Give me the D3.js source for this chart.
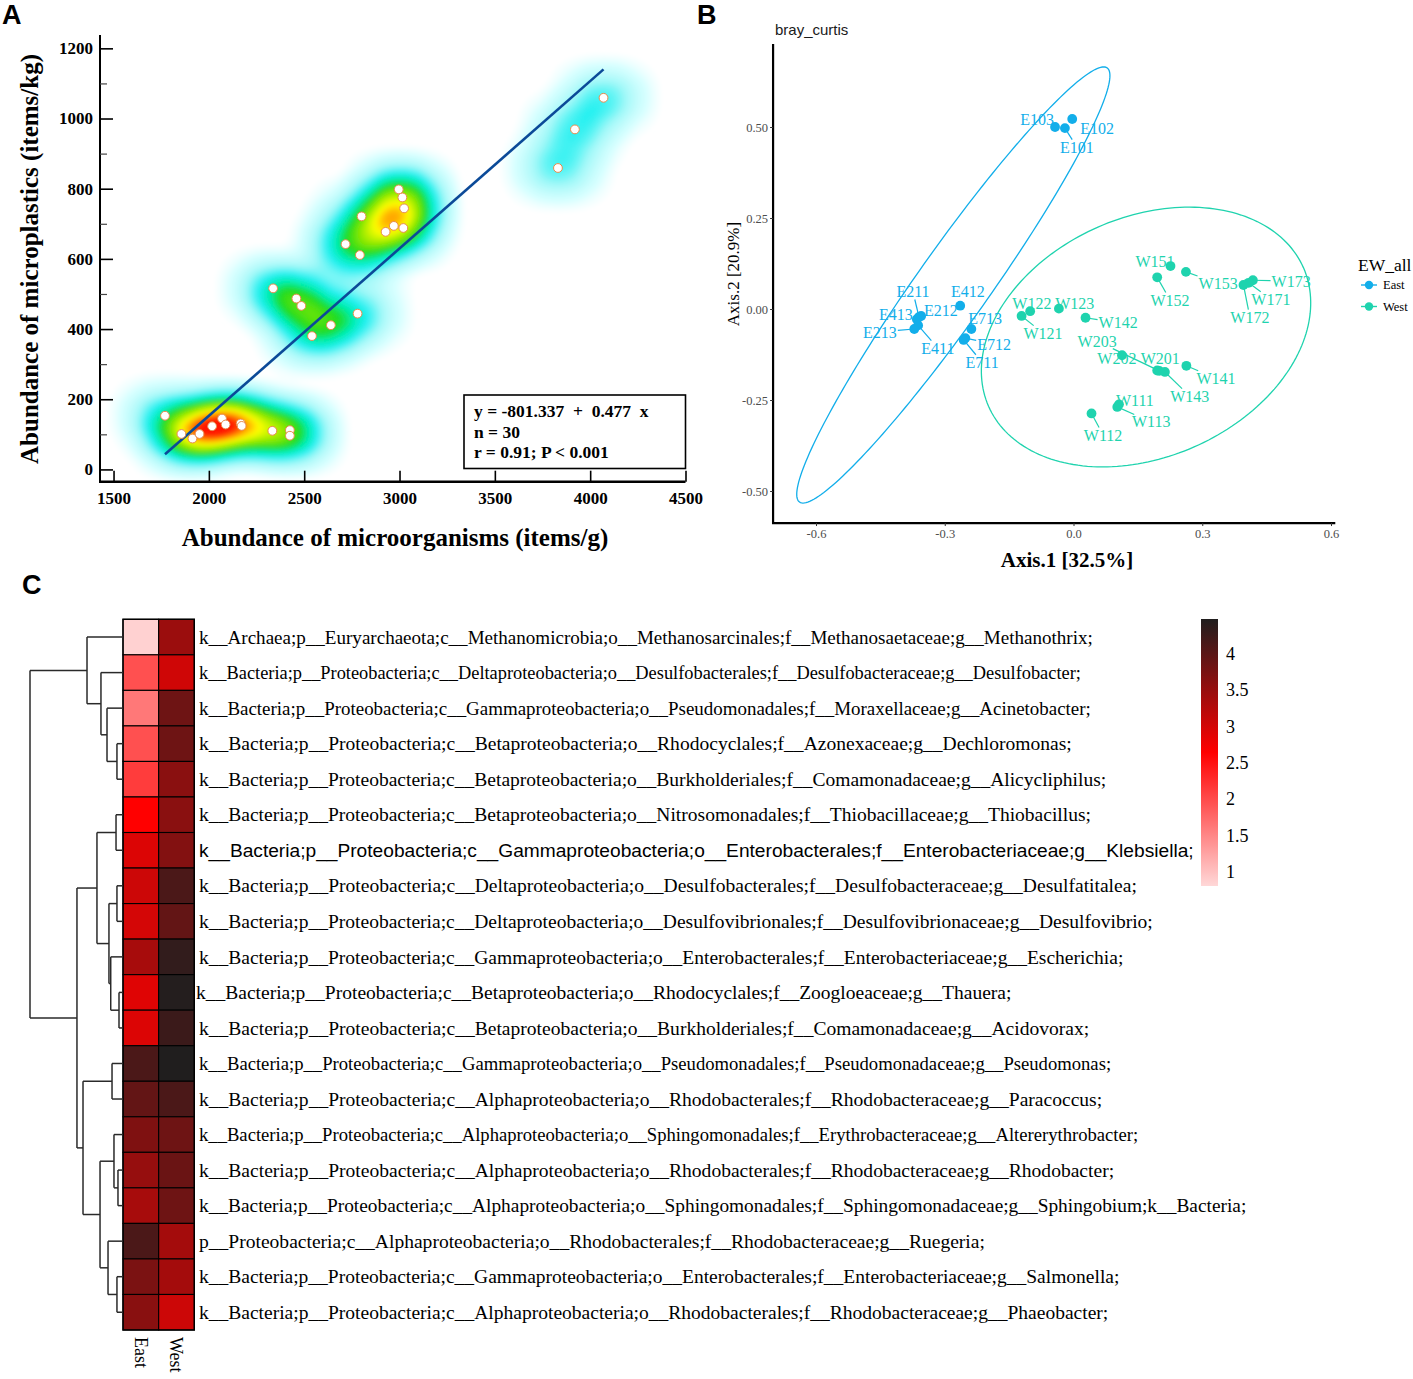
<!DOCTYPE html>
<html><head><meta charset="utf-8">
<script src="https://cdn.jsdelivr.net/npm/d3@7"></script>
<style>
body{margin:0;background:#fff}
svg{display:block}
</style>
</head><body>
<svg id="c" width="1413" height="1379"></svg>
<script>
// ================= DATA =================
// Panel A: abundance of microorganisms (items/g) vs microplastics (items/kg)
const microorganisms = [1770,1856,1914,1951,2017,2069,2088,2167,2172,2333,2425,2425,
  2337,2459,2485,2541,2640,2780,
  2717,2792,2801,2927,2970,3020,3024,3015,2996,
  3831,3920,4070];
const microplastics = [153,101,88,101,123,145,128,131,124,110,112,96,
  516,487,466,380,411,444,
  642,611,721,677,694,688,744,775,798,
  859,969,1059];
const regIntercept = -801.337;
const regSlope = 0.477;
const statLines = ["y = -801.337  +  0.477  x", "n = 30", "r = 0.91; P < 0.001"];
const xTicksA = [1500,2000,2500,3000,3500,4000,4500];
const yTicksA = [0,200,400,600,800,1000,1200];
const yMinorA = [100,300,500,700,900,1100];

// Panel B: PCoA (bray_curtis)
const sampleNames = ["E102","E103","E101","E412","E212","E211","E413","E411","E213","E713","E712","E711",
  "W121","W122","W123","W142","W151","W152","W153","W173","W171","W172",
  "W202","W201","W203","W143","W141","W111","W113","W112"];
const axis1 = [-0.003,-0.043,-0.020,-0.264,-0.355,-0.360,-0.365,-0.362,-0.371,-0.238,-0.252,-0.256,
  -0.121,-0.101,-0.034,0.028,0.226,0.195,0.262,0.418,0.408,0.396,
  0.113,0.195,0.200,0.213,0.263,0.106,0.102,0.042];
const axis2 = [0.522,0.500,0.497,0.009,-0.019,-0.022,-0.028,-0.045,-0.055,-0.055,-0.080,-0.085,
  -0.019,-0.006,0.001,-0.024,0.118,0.087,0.102,0.079,0.072,0.066,
  -0.127,-0.169,-0.170,-0.173,-0.156,-0.262,-0.269,-0.287];
const groups = ["East","East","East","East","East","East","East","East","East","East","East","East",
  "West","West","West","West","West","West","West","West","West","West",
  "West","West","West","West","West","West","West","West"];
// repelled label anchor positions (data units)
const labelAxis1 = [0.055,-0.085,0.008,-0.246,-0.309,-0.374,-0.414,-0.316,-0.451,-0.206,-0.185,-0.213,
  -0.071,-0.097,0.003,0.104,0.190,0.225,0.337,0.507,0.460,0.411,
  0.101,0.202,0.055,0.271,0.332,0.143,0.181,0.069];
const labelAxis2 = [0.495,0.522,0.445,0.047,-0.003,0.047,-0.014,-0.107,-0.063,-0.027,-0.096,-0.146,
  -0.066,0.016,0.016,-0.038,0.132,0.025,0.071,0.077,0.027,-0.022,
  -0.137,-0.137,-0.088,-0.239,-0.190,-0.250,-0.310,-0.346];
const groupNames = ["East","West"];
// confidence ellipses: centre and two semi-axis vectors (data units)
const ellipseCenter = [[-0.280,0.066],[0.169,-0.077]];
const ellipseAxisA = [[0.3584,0.5964],[0.367,0.190]];
const ellipseAxisB = [[0.0685,-0.0571],[0.112,-0.302]];
const xTicksB = [-0.6,-0.3,0.0,0.3,0.6];
const yTicksB = [-0.50,-0.25,0.00,0.25,0.50];

// Panel C: heatmap
const taxa = [
"k__Archaea;p__Euryarchaeota;c__Methanomicrobia;o__Methanosarcinales;f__Methanosaetaceae;g__Methanothrix;",
"k__Bacteria;p__Proteobacteria;c__Deltaproteobacteria;o__Desulfobacterales;f__Desulfobacteraceae;g__Desulfobacter;",
"k__Bacteria;p__Proteobacteria;c__Gammaproteobacteria;o__Pseudomonadales;f__Moraxellaceae;g__Acinetobacter;",
"k__Bacteria;p__Proteobacteria;c__Betaproteobacteria;o__Rhodocyclales;f__Azonexaceae;g__Dechloromonas;",
"k__Bacteria;p__Proteobacteria;c__Betaproteobacteria;o__Burkholderiales;f__Comamonadaceae;g__Alicycliphilus;",
"k__Bacteria;p__Proteobacteria;c__Betaproteobacteria;o__Nitrosomonadales;f__Thiobacillaceae;g__Thiobacillus;",
"k__Bacteria;p__Proteobacteria;c__Gammaproteobacteria;o__Enterobacterales;f__Enterobacteriaceae;g__Klebsiella;",
"k__Bacteria;p__Proteobacteria;c__Deltaproteobacteria;o__Desulfobacterales;f__Desulfobacteraceae;g__Desulfatitalea;",
"k__Bacteria;p__Proteobacteria;c__Deltaproteobacteria;o__Desulfovibrionales;f__Desulfovibrionaceae;g__Desulfovibrio;",
"k__Bacteria;p__Proteobacteria;c__Gammaproteobacteria;o__Enterobacterales;f__Enterobacteriaceae;g__Escherichia;",
"k__Bacteria;p__Proteobacteria;c__Betaproteobacteria;o__Rhodocyclales;f__Zoogloeaceae;g__Thauera;",
"k__Bacteria;p__Proteobacteria;c__Betaproteobacteria;o__Burkholderiales;f__Comamonadaceae;g__Acidovorax;",
"k__Bacteria;p__Proteobacteria;c__Gammaproteobacteria;o__Pseudomonadales;f__Pseudomonadaceae;g__Pseudomonas;",
"k__Bacteria;p__Proteobacteria;c__Alphaproteobacteria;o__Rhodobacterales;f__Rhodobacteraceae;g__Paracoccus;",
"k__Bacteria;p__Proteobacteria;c__Alphaproteobacteria;o__Sphingomonadales;f__Erythrobacteraceae;g__Altererythrobacter;",
"k__Bacteria;p__Proteobacteria;c__Alphaproteobacteria;o__Rhodobacterales;f__Rhodobacteraceae;g__Rhodobacter;",
"k__Bacteria;p__Proteobacteria;c__Alphaproteobacteria;o__Sphingomonadales;f__Sphingomonadaceae;g__Sphingobium;k__Bacteria;",
"p__Proteobacteria;c__Alphaproteobacteria;o__Rhodobacterales;f__Rhodobacteraceae;g__Ruegeria;",
"k__Bacteria;p__Proteobacteria;c__Gammaproteobacteria;o__Enterobacterales;f__Enterobacteriaceae;g__Salmonella;",
"k__Bacteria;p__Proteobacteria;c__Alphaproteobacteria;o__Rhodobacterales;f__Rhodobacteraceae;g__Phaeobacter;"
];
const heatColumns = ["East","West"];
const eastValues = [0.87,1.96,1.62,1.96,2.13,2.64,2.93,3.06,2.99,3.36,2.90,2.93,4.12,3.92,3.69,3.50,3.36,4.12,3.72,3.61];
const westValues = [3.46,3.03,3.83,3.83,3.60,3.60,3.66,4.12,3.92,4.32,4.44,4.25,4.47,4.12,3.83,3.86,3.83,3.39,3.39,3.06];
const colorTicks = [1,1.5,2,2.5,3,3.5,4];
const colorDomain = [0.81,2.64,4.47];
// row dendrogram: merge heights (relative) and leaves (row indices)
const dendrogram = {h:1.0, c:[
  {h:0.387, c:[0, {h:0.237, c:[1, {h:0.172, c:[2, {h:0.065, c:[3,4]}]}]}]},
  {h:0.495, c:[
    {h:0.280, c:[{h:0.075, c:[5,6]}, {h:0.151, c:[{h:0.065, c:[7,8]}, {h:0.132, c:[9, {h:0.043, c:[10,11]}]}]}]},
    {h:0.430, c:[{h:0.118, c:[12,13]}, {h:0.247, c:[{h:0.097, c:[14, {h:0.054, c:[15,16]}]}, {h:0.161, c:[17, {h:0.065, c:[18,19]}]}]}]}
  ]}
]};

// ---- layout constants (not data) ----
const rowLabelLeft  = [199,199,199,199,199,199,199,199,199,199,196,199,199,199,199,199,199,199,199,199];
const rowLabelRight = [1093,1081,1091,1072,1107,1092,1194,1137,1153,1124,1012,1089,1112,1102,1139,1114,1247,985,1120,1109];

// ================= DRAW =================
const svg = d3.select("#c");
const defs = svg.append("defs");
const SERIF = '"Liberation Serif","Times New Roman",serif';
const SANS = '"Liberation Sans",Arial,sans-serif';

// panel letters
[["A",2,24],["B",697,24],["C",22,594]].forEach(([t,x,y])=>{
  svg.append("text").attr("x",x).attr("y",y).attr("font-family",SANS).attr("font-weight","bold")
    .attr("font-size",27).text(t);
});

// ---------- Panel A ----------
const xA = d3.scaleLinear().domain([1429, 4500]).range([100, 685.5]);
const yA = d3.scaleLinear().domain([-35, 1238]).range([481.7, 35]);
const gA = svg.append("g");

// 2-D kernel density (slightly wider kernel horizontally)
const aniso = 1.3;
const ptsA = microorganisms.map((x,i)=>[xA(x)/aniso, yA(microplastics[i])]);
const contours = d3.contourDensity().x(d=>d[0]).y(d=>d[1])
  .size([600,520]).cellSize(2).bandwidth(17).thresholds(100)(ptsA);
const maxV = d3.max(contours, c=>c.value);
const jet = d3.scaleLinear()
  .domain([0, 0.03, 0.12, 0.22, 0.32, 0.42, 0.56, 0.71, 0.83, 0.93])
  .range(["#ffffff","#d8ffff","#a0f8f8","#20f0f0","#00eeb0","#20dc20","#90e800","#ffff00","#ff9000","#ff1800"])
  .clamp(true);
const stretch = d3.geoTransform({point(x,y){ this.stream.point(x*aniso, y); }});
const blur = defs.append("filter").attr("id","blurA").attr("x","-10%").attr("y","-10%").attr("width","120%").attr("height","120%");
blur.append("feGaussianBlur").attr("stdDeviation",2.5);
gA.append("g").attr("filter","url(#blurA)")
  .selectAll("path").data(contours).join("path")
  .attr("d", d3.geoPath(stretch)).attr("fill", d=>jet(d.value/maxV)).attr("stroke","none");

// regression line
const xr = d3.extent(microorganisms);
gA.append("line")
  .attr("x1", xA(xr[0])).attr("y1", yA(regIntercept + regSlope*xr[0]))
  .attr("x2", xA(xr[1])).attr("y2", yA(regIntercept + regSlope*xr[1]))
  .attr("stroke","#0b4a98").attr("stroke-width",2.6);

// points
gA.selectAll("circle.pt").data(microorganisms).join("circle")
  .attr("cx",(d)=>xA(d)).attr("cy",(d,i)=>yA(microplastics[i])).attr("r",4.4)
  .attr("fill","#fff").attr("stroke","#e88b4c").attr("stroke-width",1);

// axes A
gA.append("line").attr("x1",100).attr("x2",100).attr("y1",yA.range()[1]).attr("y2",yA.range()[0])
  .attr("stroke","#000").attr("stroke-width",2);
gA.append("line").attr("x1",99).attr("x2",xA.range()[1]).attr("y1",yA.range()[0]).attr("y2",yA.range()[0])
  .attr("stroke","#000").attr("stroke-width",2.4);
gA.append("g").attr("transform","translate(100,0)")
  .call(d3.axisRight(yA).tickValues(yTicksA).tickSize(13).tickFormat(""))
  .call(g=>g.select(".domain").remove())
  .call(g=>g.selectAll("line").attr("stroke-width",1.6));
gA.append("g").attr("transform","translate(100,0)")
  .call(d3.axisRight(yA).tickValues(yMinorA).tickSize(7).tickFormat(""))
  .call(g=>g.select(".domain").remove())
  .call(g=>g.selectAll("line").attr("stroke-width",1.2).attr("stroke","#444"));
gA.append("g").attr("transform","translate(100,0)")
  .call(d3.axisLeft(yA).tickValues(yTicksA).tickSize(0).tickPadding(7).tickFormat(d3.format("d")))
  .call(g=>g.select(".domain").remove())
  .call(g=>g.selectAll("text").attr("font-family",SERIF).attr("font-weight","bold").attr("font-size",17).attr("fill","#000"));
gA.append("g").attr("transform",`translate(0,${yA.range()[0]})`)
  .call(d3.axisTop(xA).tickValues(xTicksA).tickSize(11).tickFormat(""))
  .call(g=>g.select(".domain").remove())
  .call(g=>g.selectAll("line").attr("stroke-width",1.6));
gA.append("g").attr("transform",`translate(0,${yA.range()[0]})`)
  .call(d3.axisBottom(xA).tickValues(xTicksA).tickSize(0).tickPadding(10).tickFormat(d3.format("d")))
  .call(g=>g.select(".domain").remove())
  .call(g=>g.selectAll("text").attr("font-family",SERIF).attr("font-weight","bold").attr("font-size",17).attr("fill","#000"));

gA.append("text").attr("transform","translate(38,259) rotate(-90)").attr("text-anchor","middle")
  .attr("font-family",SERIF).attr("font-weight","bold").attr("font-size",25)
  .text("Abundance of microplastics (items/kg)");
gA.append("text").attr("x",395).attr("y",546).attr("text-anchor","middle")
  .attr("font-family",SERIF).attr("font-weight","bold").attr("font-size",25)
  .text("Abundance of microorganisms (items/g)");

// stats box
gA.append("rect").attr("x",464).attr("y",395).attr("width",221.5).attr("height",73.5)
  .attr("fill","#fff").attr("stroke","#000").attr("stroke-width",1.6);
gA.selectAll("text.stat").data(statLines).join("text")
  .attr("x",474).attr("y",(d,i)=>417+i*20.7)
  .attr("font-family",SERIF).attr("font-weight","bold").attr("font-size",17.5)
  .style("white-space","pre").text(d=>d);

// ---------- Panel B ----------
const xB = d3.scaleLinear().domain([-0.6,0.6]).range([816,1331]);
const yB = d3.scaleLinear().domain([-0.5,0.5]).range([491,127]);
const gB = svg.append("g");
const grpColor = d3.scaleOrdinal().domain(groupNames).range(["#12aeea","#1fd3ae"]);

gB.append("text").attr("x",775).attr("y",35).attr("font-family",SANS).attr("font-size",15).attr("fill","#1a1a1a").text("bray_curtis");

// ellipses
const ellLine = d3.line().curve(d3.curveLinearClosed);
groupNames.forEach((g,k)=>{
  const c = ellipseCenter[k], a = ellipseAxisA[k], b = ellipseAxisB[k];
  const pts = d3.range(0, 200).map(i=>{
    const t = i/200*2*Math.PI;
    return [xB(c[0] + a[0]*Math.cos(t) + b[0]*Math.sin(t)), yB(c[1] + a[1]*Math.cos(t) + b[1]*Math.sin(t))];
  });
  gB.append("path").attr("d", ellLine(pts)).attr("fill","none").attr("stroke",grpColor(g)).attr("stroke-width",1.3);
});

// axes B
const yBot = yB(-0.588), yTop = yB(0.728);
gB.append("line").attr("x1",xB(-0.70)).attr("x2",xB(-0.70)).attr("y1",yTop).attr("y2",yBot+1).attr("stroke","#000").attr("stroke-width",2.2);
gB.append("line").attr("x1",xB(-0.70)-1).attr("x2",xB(0.61)).attr("y1",yBot).attr("y2",yBot).attr("stroke","#000").attr("stroke-width",2.2);
gB.append("g").attr("transform",`translate(${xB(-0.70)},0)`)
  .call(d3.axisLeft(yB).tickValues(yTicksB).tickSize(3).tickPadding(2).tickFormat(d=>d.toFixed(2)))
  .call(g=>g.select(".domain").remove())
  .call(g=>g.selectAll("line").attr("stroke","#333"))
  .call(g=>g.selectAll("text").attr("font-family",SERIF).attr("font-size",12.5).attr("fill","#4d4d4d"));
gB.append("g").attr("transform",`translate(0,${yBot})`)
  .call(d3.axisBottom(xB).tickValues(xTicksB).tickSize(3).tickPadding(3).tickFormat(d=>d.toFixed(1)))
  .call(g=>g.select(".domain").remove())
  .call(g=>g.selectAll("line").attr("stroke","#333"))
  .call(g=>g.selectAll("text").attr("font-family",SERIF).attr("font-size",12.5).attr("fill","#4d4d4d"));
gB.append("text").attr("transform","translate(739,274) rotate(-90)").attr("text-anchor","middle")
  .attr("font-family",SERIF).attr("font-size",17).text("Axis.2 [20.9%]");
gB.append("text").attr("x",1067).attr("y",567).attr("text-anchor","middle")
  .attr("font-family",SERIF).attr("font-weight","bold").attr("font-size",21).text("Axis.1 [32.5%]");

// labels + segments
const lblG = gB.append("g");
const labels = lblG.selectAll("text").data(sampleNames).join("text")
  .attr("x",(d,i)=>xB(labelAxis1[i])).attr("y",(d,i)=>yB(labelAxis2[i])).attr("dy","0.35em")
  .attr("text-anchor","middle").attr("font-family",SERIF).attr("font-size",16)
  .attr("fill",(d,i)=>grpColor(groups[i])).text(d=>d);
labels.each(function(d,i){
  const b = this.getBBox();
  const cx = b.x+b.width/2, cy = b.y+b.height/2;
  const px = xB(axis1[i]), py = yB(axis2[i]);
  const dx = px-cx, dy = py-cy;
  const hw = b.width/2+1, hh = b.height/2-1;
  const s = Math.min(dx!==0?hw/Math.abs(dx):Infinity, dy!==0?hh/Math.abs(dy):Infinity);
  if (s>=1) return;
  const ex = cx+dx*s, ey = cy+dy*s;
  if (Math.hypot(px-ex,py-ey) < 9) return;
  gB.insert("line", "g").attr("x1",px).attr("y1",py).attr("x2",ex).attr("y2",ey)
    .attr("stroke",grpColor(groups[i])).attr("stroke-width",1.2);
});
gB.selectAll("circle.pt").data(sampleNames).join("circle")
  .attr("cx",(d,i)=>xB(axis1[i])).attr("cy",(d,i)=>yB(axis2[i])).attr("r",4.9)
  .attr("fill",(d,i)=>grpColor(groups[i]));

// legend B
const lg = gB.append("g").attr("transform","translate(1358,0)");
lg.append("text").attr("x",0).attr("y",271).attr("font-family",SERIF).attr("font-size",17.5).text("EW_all");
groupNames.forEach((g,k)=>{
  const y = 285 + k*21.5;
  lg.append("line").attr("x1",3).attr("x2",19).attr("y1",y).attr("y2",y).attr("stroke",grpColor(g)).attr("stroke-width",1.4);
  lg.append("circle").attr("cx",11).attr("cy",y).attr("r",4.2).attr("fill",grpColor(g));
  lg.append("text").attr("x",25).attr("y",y+4).attr("font-family",SERIF).attr("font-size",12.5).text(g);
});

// ---------- Panel C ----------
const gC = svg.append("g");
const rowIdx = d3.range(taxa.length);
const yH = d3.scaleBand().domain(rowIdx).range([619.3,1330]);
const xH = d3.scaleBand().domain(heatColumns).range([123,194.3]);
const heatColor = d3.scaleLinear().domain(colorDomain).range(["#ffd8d8","#ff0000","#201e1e"]);
const cells = [];
rowIdx.forEach(i=>{ cells.push({r:i,c:"East",v:eastValues[i]}); cells.push({r:i,c:"West",v:westValues[i]}); });
gC.selectAll("rect.cell").data(cells).join("rect")
  .attr("x",d=>xH(d.c)).attr("y",d=>yH(d.r)).attr("width",xH.bandwidth()).attr("height",yH.bandwidth())
  .attr("fill",d=>heatColor(d.v)).attr("stroke","#000").attr("stroke-width",1.1);
gC.append("rect").attr("x",xH.range()[0]).attr("y",yH.range()[0]).attr("width",xH.range()[1]-xH.range()[0])
  .attr("height",yH.range()[1]-yH.range()[0]).attr("fill","none").attr("stroke","#000").attr("stroke-width",1.4);

// row labels: each fitted to its width in the figure
gC.selectAll("text.row").data(taxa).join("text")
  .attr("x",(d,i)=>rowLabelLeft[i]).attr("y",(d,i)=>yH(i)+yH.bandwidth()/2).attr("dy","0.34em")
  .attr("font-family",(d,i)=>i===6?SANS:SERIF)
  .attr("font-size",18)
  .text(d=>d)
  .each(function(d,i){
    const w = this.getComputedTextLength();
    const fs = 18*(rowLabelRight[i]-rowLabelLeft[i])/w;
    d3.select(this).attr("font-size",fs);
  });

// column labels
heatColumns.forEach(c=>{
  gC.append("text").attr("transform",`translate(${xH(c)+xH.bandwidth()/2-6},1337) rotate(90)`)
    .attr("font-family",SERIF).attr("font-size",18).text(c);
});

// dendrogram
const xD = d3.scaleLinear().domain([0,1]).range([123,30]);
const dg = gC.append("g").attr("stroke","#2a2a2a").attr("stroke-width",1.5).attr("fill","none");
function layoutNode(n){
  if (typeof n === "number") return {y: yH(n)+yH.bandwidth()/2, h:0};
  const kids = n.c.map(layoutNode);
  const x = xD(n.h);
  dg.append("line").attr("x1",x).attr("x2",x).attr("y1",kids[0].y).attr("y2",kids[1].y);
  kids.forEach(k=>dg.append("line").attr("x1",x).attr("x2",xD(k.h)).attr("y1",k.y).attr("y2",k.y));
  return {y:(kids[0].y+kids[1].y)/2, h:n.h};
}
layoutNode(dendrogram);

// colour bar
const cbY = d3.scaleLinear().domain([colorDomain[0], colorDomain[2]]).range([886,619]);
const grad = defs.append("linearGradient").attr("id","cbar").attr("x1",0).attr("x2",0).attr("y1",1).attr("y2",0);
d3.range(0,1.0001,0.05).forEach(t=>{
  const v = colorDomain[0] + t*(colorDomain[2]-colorDomain[0]);
  grad.append("stop").attr("offset",t).attr("stop-color",heatColor(v));
});
gC.append("rect").attr("x",1201).attr("y",cbY.range()[1]).attr("width",17).attr("height",cbY.range()[0]-cbY.range()[1])
  .attr("fill","url(#cbar)");
gC.selectAll("text.cb").data(colorTicks).join("text")
  .attr("x",1226).attr("y",d=>cbY(d)).attr("dy","0.35em")
  .attr("font-family",SERIF).attr("font-size",18).text(d=>d);
</script>
</body></html>
